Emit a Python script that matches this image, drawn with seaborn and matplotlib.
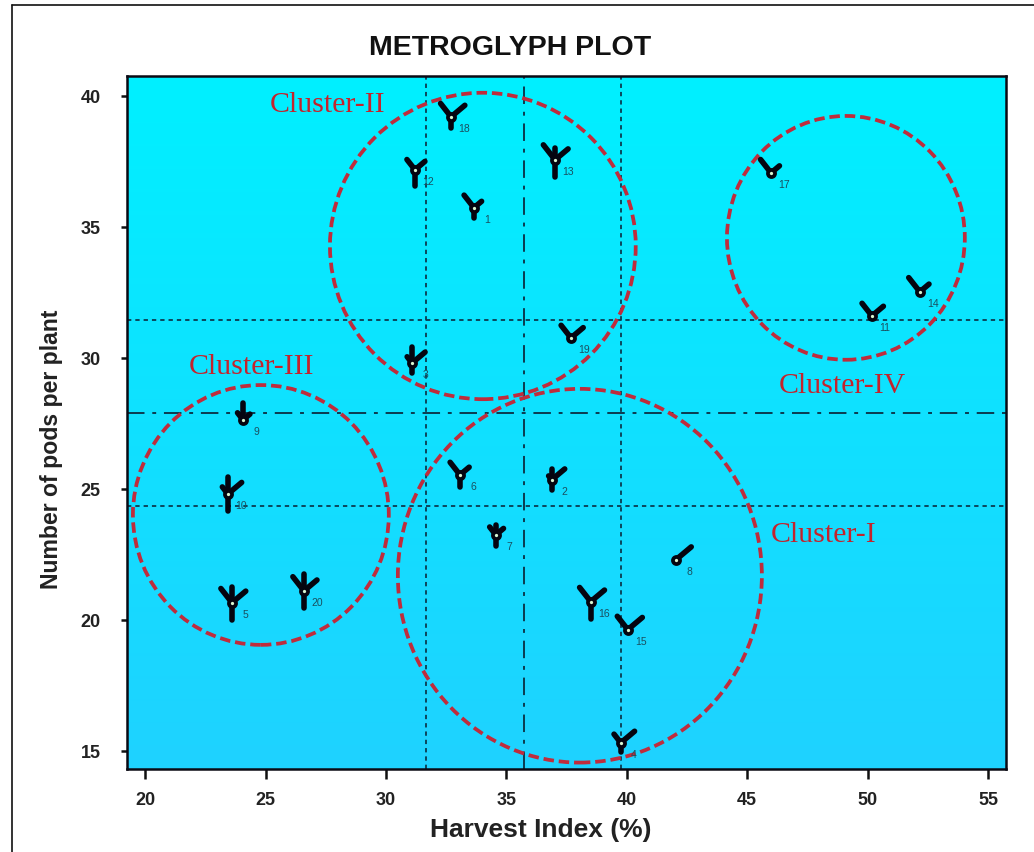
import numpy as np
import pandas as pd
import matplotlib
matplotlib.use("Agg")
import matplotlib.pyplot as plt
from matplotlib.colors import LinearSegmentedColormap
from matplotlib.lines import Line2D
from matplotlib.patches import Ellipse
import seaborn as sns

# genotypes
ids = [1, 2, 3, 4, 5, 6, 7, 8, 9, 10, 11, 12, 13, 14, 15, 16, 17, 18, 19, 20]
harvest_index = [33.65, 36.88, 31.08, 39.75, 23.60, 33.07, 34.56, 42.04, 24.06, 23.43,
                 50.18, 31.20, 37.02, 52.17, 40.04, 38.50, 45.99, 32.70, 37.68, 26.59]
pods_per_plant = [35.73, 25.34, 29.80, 15.30, 20.65, 25.53, 23.24, 22.29, 27.63, 24.80,
                  31.60, 37.18, 37.56, 32.52, 19.62, 20.69, 37.06, 39.20, 30.76, 21.10]

# glyph ray lengths, read in pixels
ray_up_left = [16, 5, 8, 11, 18, 16, 10, 0, 9, 9, 16, 13, 19, 18, 17, 18, 17, 17, 16, 18]
ray_up_right = [10, 17, 17, 18, 18, 12, 10, 20, 9, 18, 15, 13, 17, 12, 19, 18, 11, 18, 16, 17]
ray_up = [0, 11, 16, 0, 16, 0, 10, 0, 17, 17, 0, 0, 12, 0, 0, 0, 0, 0, 0, 17]
ray_down = [10, 10, 10, 9, 17, 12, 11, 0, 0, 17, 0, 16, 17, 0, 0, 17, 0, 11, 0, 17]

# vertical and horizontal class limits
v_dotted = [31.66, 39.75]
v_dashdot = [35.73]
h_dotted = [24.35, 31.45]
h_dashdot = [27.90]

# cluster outlines and names
cluster_x = [38.05, 34.02, 24.80, 49.10]
cluster_y = [21.68, 34.27, 24.00, 34.58]
cluster_w = [15.12, 12.70, 10.63, 9.88]
cluster_h = [14.27, 11.70, 9.92, 9.31]
cluster_names = ["Cluster-I", "Cluster-II", "Cluster-III", "Cluster-IV"]
name_x = [45.98, 25.15, 21.82, 46.32]
name_y = [23.28, 39.68, 29.68, 28.98]

df = pd.DataFrame({"hi": harvest_index, "pods": pods_per_plant})

sns.set_theme(style="white")
plt.rcParams["font.family"] = ["Liberation Sans", "DejaVu Sans"]

fig = plt.figure(figsize=(10.34, 8.53), dpi=100)
ax = fig.add_axes([127 / 1034, 83 / 853, 879 / 1034, 693 / 853])

# background gradient
grad = np.linspace(0, 1, 256).reshape(-1, 1)
cmap = LinearSegmentedColormap.from_list("bg", ["#00F0FF", "#1FD2FF"])
ax.imshow(grad, cmap=cmap, aspect="auto", extent=(0, 1, 0, 1),
          transform=ax.transAxes, zorder=0)

ax.set_xlim(19.24, 55.75)
ax.set_ylim(14.3, 40.76)

for v in v_dotted:
    ax.axvline(v, color="#0b3b50", lw=1.3, ls=(0, (2.4, 2.2)), zorder=1)
for v in v_dashdot:
    ax.axvline(v, color="#0b3b50", lw=1.4, ls=(0, (9, 4, 2, 4)), zorder=1)
for h in h_dotted:
    ax.axhline(h, color="#0b3b50", lw=1.3, ls=(0, (2.4, 2.2)), zorder=1)
for h in h_dashdot:
    ax.axhline(h, color="#0b3b50", lw=1.4, ls=(0, (9, 4, 2, 4)), zorder=1)

# data units per pixel
ux = (55.75 - 19.24) / 879
uy = (40.76 - 14.3) / 693

angle_ul = np.deg2rad(128)
angle_ur = np.deg2rad(40)
for i in range(len(ids)):
    x0, y0 = harvest_index[i], pods_per_plant[i]
    rays = [(ray_up_left[i], angle_ul), (ray_up_right[i], angle_ur),
            (ray_up[i], np.pi / 2), (ray_down[i], -np.pi / 2)]
    for length, ang in rays:
        if length == 0:
            continue
        ax.plot([x0, x0 + length * np.cos(ang) * ux],
                [y0, y0 + length * np.sin(ang) * uy],
                color="#050510", lw=4.0, solid_capstyle="round", zorder=3)
    ax.annotate(str(ids[i]), (x0, y0), xytext=(9.4, -8), textcoords="offset points",
                ha="center", va="center", fontsize=7.5, color="#1a4f60", zorder=4)

sns.scatterplot(data=df, x="hi", y="pods", ax=ax, marker="o", s=26,
                color="#d8f5d0", edgecolor="#050510", linewidth=2.7, zorder=5, legend=False)

for i in range(len(cluster_names)):
    ax.add_patch(Ellipse((cluster_x[i], cluster_y[i]), cluster_w[i], cluster_h[i], fill=False,
                         edgecolor="#bf2c3c", lw=2.7, ls=(0, (2.8, 1.3)), zorder=2))
    ax.text(name_x[i], name_y[i], cluster_names[i], color="#c4232c", fontsize=21.5,
            family=["Liberation Serif"], ha="left", va="center", zorder=6)

ax.set_xticks([20, 25, 30, 35, 40, 45, 50, 55])
ax.set_yticks([15, 20, 25, 30, 35, 40])
ax.tick_params(axis="x", bottom=True, length=7, width=1.8, color="#111111", pad=9,
               labelsize=13, labelcolor="#222222")
ax.tick_params(axis="y", left=True, length=4, width=1.8, color="#111111", pad=15,
               labelsize=13, labelcolor="#222222")
for lab in ax.get_xticklabels() + ax.get_yticklabels():
    lab.set_fontweight("bold")

for side in ax.spines:
    ax.spines[side].set_visible(True)
    ax.spines[side].set_color("#0a0a14")
    ax.spines[side].set_linewidth(1.8)

ax.set_xlabel("")
ax.set_ylabel("")
fig.text(510 / 1034, 1 - 48 / 853, "METROGLYPH PLOT", fontsize=20.5, fontweight="bold",
         color="#111111", ha="center", va="center")
fig.text(541 / 1034, 1 - 830 / 853, "Harvest Index (%)", fontsize=19, fontweight="bold",
         color="#222222", ha="center", va="center")
fig.text(52 / 1034, 1 - 449 / 853, "Number of pods per plant", fontsize=16.6, fontweight="bold",
         color="#222222", ha="center", va="center", rotation=90)

# outer page frame
fig.add_artist(Line2D([12 / 1034, 12 / 1034], [0, 1 - 6 / 853], color="#111111", lw=1.2))
fig.add_artist(Line2D([12 / 1034, 1], [1 - 6 / 853, 1 - 6 / 853], color="#111111", lw=1.2))

fig.savefig("out.png", dpi=100)
